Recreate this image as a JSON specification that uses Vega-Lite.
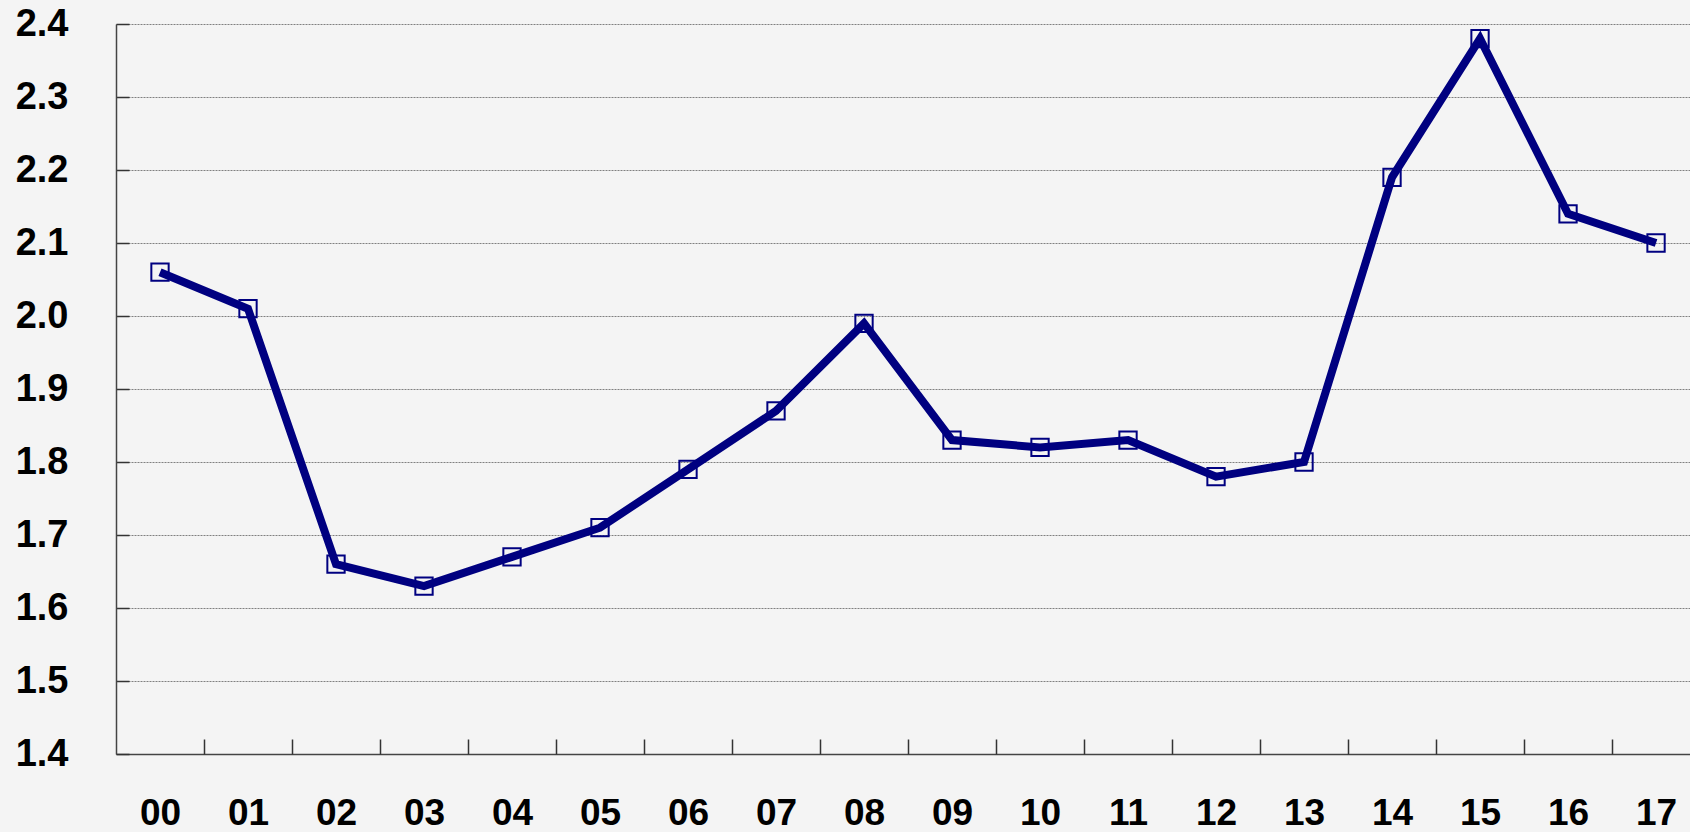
{
  "$schema": "https://vega.github.io/schema/vega-lite/v6.json",
  "width": 1574,
  "height": 730,
  "autosize": {"type": "none"},
  "padding": {"left": 116, "top": 24, "right": 0, "bottom": 78},
  "background": "#f4f4f4",
  "config": {"view": {"stroke": null}},
  "data": {"values": [
    {"year": 2000, "value": 2.06},
    {"year": 2001, "value": 2.01},
    {"year": 2002, "value": 1.66},
    {"year": 2003, "value": 1.63},
    {"year": 2004, "value": 1.67},
    {"year": 2005, "value": 1.71},
    {"year": 2006, "value": 1.79},
    {"year": 2007, "value": 1.87},
    {"year": 2008, "value": 1.99},
    {"year": 2009, "value": 1.83},
    {"year": 2010, "value": 1.82},
    {"year": 2011, "value": 1.83},
    {"year": 2012, "value": 1.78},
    {"year": 2013, "value": 1.80},
    {"year": 2014, "value": 2.19},
    {"year": 2015, "value": 2.38},
    {"year": 2016, "value": 2.14},
    {"year": 2017, "value": 2.10}
  ]},
  "resolve": {"axis": {"x": "independent"}},
  "layer": [
    {
      "mark": {"type": "point", "shape": "square", "filled": false, "size": 300, "strokeWidth": 2, "color": "#000080", "opacity": 1},
      "encoding": {
        "x": {
          "field": "year", "type": "quantitative",
          "scale": {"domain": [1999.5, 2017.386], "nice": false, "zero": false},
          "axis": {
            "orient": "bottom",
            "title": null,
            "values": [2000,2001,2002,2003,2004,2005,2006,2007,2008,2009,2010,2011,2012,2013,2014,2015,2016,2017],
            "format": "d",
            "labelExpr": "slice(datum.label, 2)",
            "ticks": false,
            "grid": false,
            "domain": true,
            "domainColor": "#444444",
            "domainWidth": 1.5,
            "labelFont": "Liberation Sans",
            "labelFontSize": 37,
            "labelFontWeight": "bold",
            "labelColor": "#000000",
            "labelPadding": 41,
            "labelBaseline": "top",
            "labelFlush": false,
            "labelOverlap": false
          }
        },
        "y": {
          "field": "value", "type": "quantitative",
          "scale": {"domain": [1.4, 2.4], "nice": false, "zero": false},
          "axis": {
            "title": null,
            "values": [1.4,1.5,1.6,1.7,1.8,1.9,2.0,2.1,2.2,2.3,2.4],
            "format": ".1f",
            "grid": true,
            "gridDash": [2, 1],
            "gridColor": "#808080",
            "gridWidth": 1,
            "ticks": true,
            "tickSize": -13,
            "tickColor": "#333333",
            "tickWidth": 1.5,
            "domain": true,
            "domainColor": "#444444",
            "domainWidth": 1.5,
            "labelFont": "Liberation Sans",
            "labelFontSize": 38,
            "labelFontWeight": "bold",
            "labelColor": "#000000",
            "labelPadding": 61,
            "labelFlush": false,
            "labelOverlap": false
          }
        }
      }
    },
    {
      "mark": {"type": "line", "color": "#000080", "strokeWidth": 8},
      "encoding": {
        "x": {
          "field": "year", "type": "quantitative",
          "scale": {"domain": [1999.5, 2017.386], "nice": false, "zero": false},
          "axis": {
            "orient": "bottom",
            "title": null,
            "values": [2000.5,2001.5,2002.5,2003.5,2004.5,2005.5,2006.5,2007.5,2008.5,2009.5,2010.5,2011.5,2012.5,2013.5,2014.5,2015.5,2016.5],
            "labels": false,
            "domain": false,
            "grid": false,
            "ticks": true,
            "tickSize": -15,
            "tickColor": "#333333",
            "tickWidth": 1.5
          }
        },
        "y": {"field": "value", "type": "quantitative"}
      }
    }
  ]
}
